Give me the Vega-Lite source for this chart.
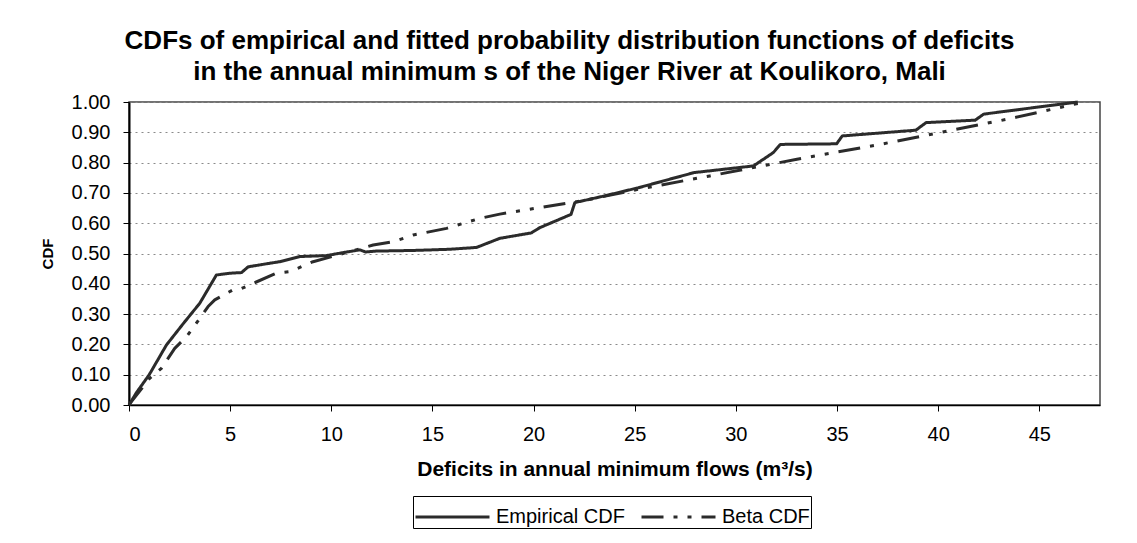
{
  "$schema": "https://vega.github.io/schema/vega-lite/v6.json",
  "width": 971,
  "height": 303,
  "autosize": {"type": "none"},
  "padding": {"left": 129, "top": 102, "right": 37, "bottom": 138},
  "background": "white",
  "title": {
    "text": ["CDFs of empirical and fitted probability distribution functions  of deficits", "in the annual minimum s of the Niger River at Koulikoro, Mali"],
    "font": "Liberation Sans",
    "fontSize": 26,
    "fontWeight": "bold",
    "color": "#000000",
    "anchor": "middle",
    "dx": -45,
    "offset": 7,
    "lineHeight": 31
  },
  "data": {
    "values": [
      {"series": "Empirical CDF", "x": 0, "y": 0},
      {"series": "Empirical CDF", "x": 0.36, "y": 0.04},
      {"series": "Empirical CDF", "x": 1.0, "y": 0.1},
      {"series": "Empirical CDF", "x": 1.85, "y": 0.198},
      {"series": "Empirical CDF", "x": 2.7, "y": 0.27},
      {"series": "Empirical CDF", "x": 3.5, "y": 0.336},
      {"series": "Empirical CDF", "x": 4.32, "y": 0.429},
      {"series": "Empirical CDF", "x": 5.0, "y": 0.435},
      {"series": "Empirical CDF", "x": 5.56, "y": 0.437},
      {"series": "Empirical CDF", "x": 5.89, "y": 0.456},
      {"series": "Empirical CDF", "x": 6.7, "y": 0.465},
      {"series": "Empirical CDF", "x": 7.45, "y": 0.473},
      {"series": "Empirical CDF", "x": 8.44, "y": 0.49},
      {"series": "Empirical CDF", "x": 9.76, "y": 0.493},
      {"series": "Empirical CDF", "x": 10.5, "y": 0.502},
      {"series": "Empirical CDF", "x": 11.41, "y": 0.512},
      {"series": "Empirical CDF", "x": 11.7, "y": 0.505},
      {"series": "Empirical CDF", "x": 12.2, "y": 0.508},
      {"series": "Empirical CDF", "x": 14.05, "y": 0.51},
      {"series": "Empirical CDF", "x": 15.86, "y": 0.514},
      {"series": "Empirical CDF", "x": 17.18, "y": 0.52},
      {"series": "Empirical CDF", "x": 18.33, "y": 0.55},
      {"series": "Empirical CDF", "x": 19.89, "y": 0.568},
      {"series": "Empirical CDF", "x": 20.3, "y": 0.585},
      {"series": "Empirical CDF", "x": 21.85, "y": 0.629},
      {"series": "Empirical CDF", "x": 22.04, "y": 0.668},
      {"series": "Empirical CDF", "x": 23.5, "y": 0.69},
      {"series": "Empirical CDF", "x": 25.18, "y": 0.717},
      {"series": "Empirical CDF", "x": 27.93, "y": 0.767},
      {"series": "Empirical CDF", "x": 30.87, "y": 0.789},
      {"series": "Empirical CDF", "x": 31.85, "y": 0.833},
      {"series": "Empirical CDF", "x": 32.2, "y": 0.86},
      {"series": "Empirical CDF", "x": 34.98, "y": 0.862},
      {"series": "Empirical CDF", "x": 35.26, "y": 0.888},
      {"series": "Empirical CDF", "x": 38.9, "y": 0.907},
      {"series": "Empirical CDF", "x": 39.4, "y": 0.932},
      {"series": "Empirical CDF", "x": 41.83, "y": 0.94},
      {"series": "Empirical CDF", "x": 42.25, "y": 0.96},
      {"series": "Empirical CDF", "x": 45.37, "y": 0.987},
      {"series": "Empirical CDF", "x": 46.9, "y": 1.0},
      {"series": "Beta CDF", "x": 0, "y": 0},
      {"series": "Beta CDF", "x": 0.12, "y": 0.011},
      {"series": "Beta CDF", "x": 1.02, "y": 0.088},
      {"series": "Beta CDF", "x": 1.6, "y": 0.121},
      {"series": "Beta CDF", "x": 2.26, "y": 0.187},
      {"series": "Beta CDF", "x": 2.84, "y": 0.225},
      {"series": "Beta CDF", "x": 3.33, "y": 0.27},
      {"series": "Beta CDF", "x": 3.91, "y": 0.325},
      {"series": "Beta CDF", "x": 4.24, "y": 0.347},
      {"series": "Beta CDF", "x": 5.14, "y": 0.38},
      {"series": "Beta CDF", "x": 5.47, "y": 0.382},
      {"series": "Beta CDF", "x": 7.29, "y": 0.435},
      {"series": "Beta CDF", "x": 7.95, "y": 0.44},
      {"series": "Beta CDF", "x": 9.1, "y": 0.473},
      {"series": "Beta CDF", "x": 10.2, "y": 0.493},
      {"series": "Beta CDF", "x": 12.07, "y": 0.528},
      {"series": "Beta CDF", "x": 13.06, "y": 0.539},
      {"series": "Beta CDF", "x": 14.05, "y": 0.561},
      {"series": "Beta CDF", "x": 15.7, "y": 0.583},
      {"series": "Beta CDF", "x": 17.34, "y": 0.616},
      {"series": "Beta CDF", "x": 18.33, "y": 0.63},
      {"series": "Beta CDF", "x": 21.26, "y": 0.662},
      {"series": "Beta CDF", "x": 22.5, "y": 0.675},
      {"series": "Beta CDF", "x": 25.18, "y": 0.712},
      {"series": "Beta CDF", "x": 28.71, "y": 0.756},
      {"series": "Beta CDF", "x": 33.02, "y": 0.811},
      {"series": "Beta CDF", "x": 37.12, "y": 0.86},
      {"series": "Beta CDF", "x": 40.07, "y": 0.899},
      {"series": "Beta CDF", "x": 43.4, "y": 0.943},
      {"series": "Beta CDF", "x": 46.9, "y": 0.995}
    ]
  },
  "mark": {"type": "line", "color": "#2b2b2b", "strokeWidth": 3, "strokeCap": "butt", "strokeJoin": "round"},
  "encoding": {
    "x": {
      "field": "x",
      "type": "quantitative",
      "scale": {"domain": [0, 48], "nice": false, "zero": true},
      "axis": {
        "title": "Deficits in annual minimum flows (m³/s)",
        "values": [0, 5, 10, 15, 20, 25, 30, 35, 40, 45],
        "grid": false,
        "format": "d",
        "labelFontSize": 20,
        "labelPadding": 13,
        "titleFontSize": 21,
        "titlePadding": 14
      }
    },
    "y": {
      "field": "y",
      "type": "quantitative",
      "scale": {"domain": [0, 1], "nice": false},
      "axis": {
        "title": "CDF",
        "values": [0, 0.1, 0.2, 0.3, 0.4, 0.5, 0.6, 0.7, 0.8, 0.9, 1.0],
        "format": ".2f",
        "grid": true,
        "labelFontSize": 20,
        "labelPadding": 13,
        "titleFontSize": 15,
        "titlePadding": 16,
        "domainWidth": 2
      }
    },
    "strokeDash": {
      "field": "series",
      "type": "nominal",
      "scale": {"domain": ["Empirical CDF", "Beta CDF"], "range": [[1, 0], [22, 10, 4, 10, 4, 10]]},
      "legend": {
        "title": null,
        "orient": "none",
        "direction": "horizontal",
        "legendX": 284,
        "legendY": 394,
        "symbolType": "M-1,0H3",
        "symbolSize": 1369,
        "symbolStrokeWidth": 3,
        "symbolStrokeColor": "#2b2b2b",
        "symbolFillColor": "transparent",
        "labelFontSize": 20,
        "labelFont": "Liberation Sans",
        "labelColor": "#000000",
        "labelOffset": 42,
        "columnPadding": 10,
        "padding": 1,
        "strokeColor": "#000000",
        "fillColor": "#ffffff"
      }
    }
  },
  "config": {
    "font": "Liberation Sans",
    "view": {"stroke": "#444444", "strokeWidth": 1.5},
    "axis": {
      "labelFont": "Liberation Sans",
      "titleFont": "Liberation Sans",
      "labelColor": "#000000",
      "titleColor": "#000000",
      "titleFontWeight": "bold",
      "domainColor": "#000000",
      "domainWidth": 1.5,
      "tickColor": "#000000",
      "tickSize": 6,
      "tickWidth": 1,
      "gridColor": "#8a8a8a",
      "gridDash": [2, 4],
      "gridWidth": 1
    }
  }
}
